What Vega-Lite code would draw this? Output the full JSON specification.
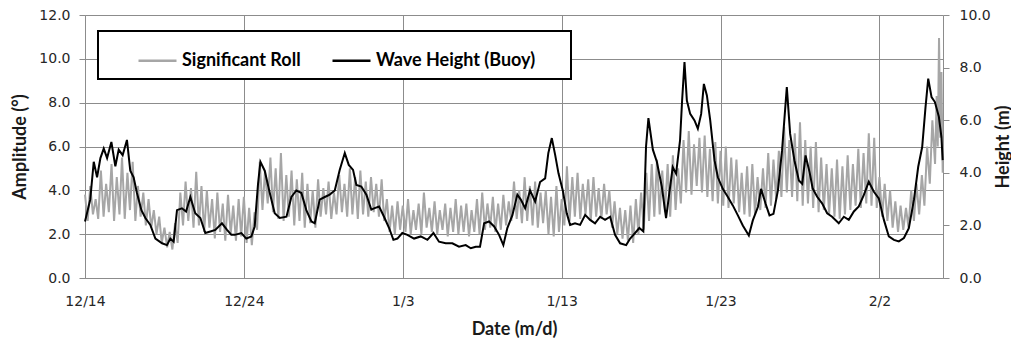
{
  "$schema": "https://vega.github.io/schema/vega-lite/v6.json",
  "width": 858,
  "height": 263,
  "autosize": {"type": "none"},
  "padding": {"left": 85, "top": 15, "right": 68, "bottom": 67},
  "background": "white",
  "config": {"view": {"stroke": null}, "font": "DejaVu Sans"},
  "datasets": {
    "roll": [
      {"d":0,"roll":3.8},{"d":0.17,"roll":2.6},{"d":0.33,"roll":4.2},{"d":0.5,"roll":2.9},{"d":0.67,"roll":3.6},{"d":0.83,"roll":2.7},
      {"d":1,"roll":4.9},{"d":1.17,"roll":2.8},{"d":1.33,"roll":4.3},{"d":1.5,"roll":3.0},{"d":1.67,"roll":5.2},{"d":1.83,"roll":2.6},
      {"d":2,"roll":4.6},{"d":2.17,"roll":2.9},{"d":2.33,"roll":5.5},{"d":2.5,"roll":2.7},{"d":2.67,"roll":4.8},{"d":2.83,"roll":3.1},
      {"d":3,"roll":5.3},{"d":3.17,"roll":2.6},{"d":3.33,"roll":4.2},{"d":3.5,"roll":2.8},{"d":3.67,"roll":3.9},{"d":3.83,"roll":2.4},
      {"d":4,"roll":3.6},{"d":4.17,"roll":2.3},{"d":4.33,"roll":3.1},{"d":4.5,"roll":2.0},{"d":4.67,"roll":2.8},{"d":4.83,"roll":1.6},
      {"d":5,"roll":2.3},{"d":5.17,"roll":1.4},{"d":5.33,"roll":2.1},{"d":5.5,"roll":1.3},{"d":5.67,"roll":2.5},{"d":5.83,"roll":1.6},
      {"d":6,"roll":3.9},{"d":6.17,"roll":2.4},{"d":6.33,"roll":4.4},{"d":6.5,"roll":2.6},{"d":6.67,"roll":4.1},{"d":6.83,"roll":2.3},
      {"d":7,"roll":4.85},{"d":7.17,"roll":2.4},{"d":7.33,"roll":4.2},{"d":7.5,"roll":2.1},{"d":7.67,"roll":4.0},{"d":7.83,"roll":2.3},
      {"d":8,"roll":3.6},{"d":8.17,"roll":1.8},{"d":8.33,"roll":3.9},{"d":8.5,"roll":2.1},{"d":8.67,"roll":3.4},{"d":8.83,"roll":1.7},
      {"d":9,"roll":3.8},{"d":9.17,"roll":2.0},{"d":9.33,"roll":3.3},{"d":9.5,"roll":1.7},{"d":9.67,"roll":3.6},{"d":9.83,"roll":1.9},
      {"d":10,"roll":3.7},{"d":10.17,"roll":1.6},{"d":10.33,"roll":3.2},{"d":10.5,"roll":1.5},{"d":10.67,"roll":3.0},{"d":10.83,"roll":2.2},
      {"d":11,"roll":5.3},{"d":11.17,"roll":3.1},{"d":11.33,"roll":4.9},{"d":11.5,"roll":3.4},{"d":11.67,"roll":5.5},{"d":11.83,"roll":3.0},
      {"d":12,"roll":5.0},{"d":12.17,"roll":2.7},{"d":12.33,"roll":5.7},{"d":12.5,"roll":2.6},{"d":12.67,"roll":4.7},{"d":12.83,"roll":2.8},
      {"d":13,"roll":4.9},{"d":13.17,"roll":2.4},{"d":13.33,"roll":4.5},{"d":13.5,"roll":2.6},{"d":13.67,"roll":4.8},{"d":13.83,"roll":2.3},
      {"d":14,"roll":4.3},{"d":14.17,"roll":2.5},{"d":14.33,"roll":4.0},{"d":14.5,"roll":2.3},{"d":14.67,"roll":4.5},{"d":14.83,"roll":2.8},
      {"d":15,"roll":4.1},{"d":15.17,"roll":2.9},{"d":15.33,"roll":4.4},{"d":15.5,"roll":2.7},{"d":15.67,"roll":3.9},{"d":15.83,"roll":2.9},
      {"d":16,"roll":4.7},{"d":16.17,"roll":3.0},{"d":16.33,"roll":4.3},{"d":16.5,"roll":2.8},{"d":16.67,"roll":5.0},{"d":16.83,"roll":2.9},
      {"d":17,"roll":4.6},{"d":17.17,"roll":2.7},{"d":17.33,"roll":4.9},{"d":17.5,"roll":2.9},{"d":17.67,"roll":4.4},{"d":17.83,"roll":2.8},
      {"d":18,"roll":4.6},{"d":18.17,"roll":3.0},{"d":18.33,"roll":4.3},{"d":18.5,"roll":2.8},{"d":18.67,"roll":4.5},{"d":18.83,"roll":2.6},
      {"d":19,"roll":3.6},{"d":19.17,"roll":2.1},{"d":19.33,"roll":3.3},{"d":19.5,"roll":2.0},{"d":19.67,"roll":3.5},{"d":19.83,"roll":2.2},
      {"d":20,"roll":3.3},{"d":20.17,"roll":2.1},{"d":20.33,"roll":3.6},{"d":20.5,"roll":2.0},{"d":20.67,"roll":3.1},{"d":20.83,"roll":2.2},
      {"d":21,"roll":3.4},{"d":21.17,"roll":2.0},{"d":21.33,"roll":3.9},{"d":21.5,"roll":2.3},{"d":21.67,"roll":3.2},{"d":21.83,"roll":2.1},
      {"d":22,"roll":3.5},{"d":22.17,"roll":2.0},{"d":22.33,"roll":3.1},{"d":22.5,"roll":2.2},{"d":22.67,"roll":3.4},{"d":22.83,"roll":1.9},
      {"d":23,"roll":3.2},{"d":23.17,"roll":2.1},{"d":23.33,"roll":3.6},{"d":23.5,"roll":2.0},{"d":23.67,"roll":3.3},{"d":23.83,"roll":2.1},
      {"d":24,"roll":3.4},{"d":24.17,"roll":1.9},{"d":24.33,"roll":3.1},{"d":24.5,"roll":2.1},{"d":24.67,"roll":3.6},{"d":24.83,"roll":2.0},
      {"d":25,"roll":3.9},{"d":25.17,"roll":2.2},{"d":25.33,"roll":3.4},{"d":25.5,"roll":2.3},{"d":25.67,"roll":3.7},{"d":25.83,"roll":2.1},
      {"d":26,"roll":3.4},{"d":26.17,"roll":2.2},{"d":26.33,"roll":3.8},{"d":26.5,"roll":2.4},{"d":26.67,"roll":3.5},{"d":26.83,"roll":2.6},
      {"d":27,"roll":4.4},{"d":27.17,"roll":2.7},{"d":27.33,"roll":4.0},{"d":27.5,"roll":2.5},{"d":27.67,"roll":4.6},{"d":27.83,"roll":2.6},
      {"d":28,"roll":4.2},{"d":28.17,"roll":2.4},{"d":28.33,"roll":4.4},{"d":28.5,"roll":2.3},{"d":28.67,"roll":3.9},{"d":28.83,"roll":2.5},
      {"d":29,"roll":4.0},{"d":29.17,"roll":2.0},{"d":29.33,"roll":3.7},{"d":29.5,"roll":1.9},{"d":29.67,"roll":4.2},{"d":29.83,"roll":2.1},
      {"d":30,"roll":3.6},{"d":30.17,"roll":2.4},{"d":30.33,"roll":5.1},{"d":30.5,"roll":2.6},{"d":30.67,"roll":4.6},{"d":30.83,"roll":2.8},
      {"d":31,"roll":4.8},{"d":31.17,"roll":2.7},{"d":31.33,"roll":4.3},{"d":31.5,"roll":2.9},{"d":31.67,"roll":4.5},{"d":31.83,"roll":2.6},
      {"d":32,"roll":4.6},{"d":32.17,"roll":2.8},{"d":32.33,"roll":4.1},{"d":32.5,"roll":2.7},{"d":32.67,"roll":4.3},{"d":32.83,"roll":2.9},
      {"d":33,"roll":4.0},{"d":33.17,"roll":2.3},{"d":33.33,"roll":3.5},{"d":33.5,"roll":2.0},{"d":33.67,"roll":3.2},{"d":33.83,"roll":1.8},
      {"d":34,"roll":3.1},{"d":34.17,"roll":1.7},{"d":34.33,"roll":3.3},{"d":34.5,"roll":1.6},{"d":34.67,"roll":3.6},{"d":34.83,"roll":2.0},
      {"d":35,"roll":3.9},{"d":35.17,"roll":2.2},{"d":35.33,"roll":4.8},{"d":35.5,"roll":2.6},{"d":35.67,"roll":5.2},{"d":35.83,"roll":2.8},
      {"d":36,"roll":5.4},{"d":36.17,"roll":2.9},{"d":36.33,"roll":4.9},{"d":36.5,"roll":3.0},{"d":36.67,"roll":5.2},{"d":36.83,"roll":2.8},
      {"d":37,"roll":5.6},{"d":37.17,"roll":3.1},{"d":37.33,"roll":5.0},{"d":37.5,"roll":3.4},{"d":37.67,"roll":6.3},{"d":37.83,"roll":3.9},
      {"d":38,"roll":6.7},{"d":38.17,"roll":3.8},{"d":38.33,"roll":6.1},{"d":38.5,"roll":4.2},{"d":38.67,"roll":6.4},{"d":38.83,"roll":3.9},
      {"d":39,"roll":6.5},{"d":39.17,"roll":3.7},{"d":39.33,"roll":5.9},{"d":39.5,"roll":3.5},{"d":39.67,"roll":6.2},{"d":39.83,"roll":3.4},
      {"d":40,"roll":5.8},{"d":40.17,"roll":3.3},{"d":40.33,"roll":6.0},{"d":40.5,"roll":3.2},{"d":40.67,"roll":5.5},{"d":40.83,"roll":3.4},
      {"d":41,"roll":5.4},{"d":41.17,"roll":3.0},{"d":41.33,"roll":4.8},{"d":41.5,"roll":2.9},{"d":41.67,"roll":5.1},{"d":41.83,"roll":2.8},
      {"d":42,"roll":5.2},{"d":42.17,"roll":2.9},{"d":42.33,"roll":4.6},{"d":42.5,"roll":3.1},{"d":42.67,"roll":5.0},{"d":42.83,"roll":3.2},
      {"d":43,"roll":5.7},{"d":43.17,"roll":3.3},{"d":43.33,"roll":5.4},{"d":43.5,"roll":3.6},{"d":43.67,"roll":5.8},{"d":43.83,"roll":3.7},
      {"d":44,"roll":6.9},{"d":44.17,"roll":3.9},{"d":44.33,"roll":6.3},{"d":44.5,"roll":3.7},{"d":44.67,"roll":6.6},{"d":44.83,"roll":3.5},
      {"d":45,"roll":7.1},{"d":45.17,"roll":3.3},{"d":45.33,"roll":6.3},{"d":45.5,"roll":3.4},{"d":45.67,"roll":6.0},{"d":45.83,"roll":3.2},
      {"d":46,"roll":6.2},{"d":46.17,"roll":3.0},{"d":46.33,"roll":5.5},{"d":46.5,"roll":3.1},{"d":46.67,"roll":5.2},{"d":46.83,"roll":2.9},
      {"d":47,"roll":5.0},{"d":47.17,"roll":2.8},{"d":47.33,"roll":5.4},{"d":47.5,"roll":2.7},{"d":47.67,"roll":5.1},{"d":47.83,"roll":2.9},
      {"d":48,"roll":5.6},{"d":48.17,"roll":3.1},{"d":48.33,"roll":5.2},{"d":48.5,"roll":3.3},{"d":48.67,"roll":5.9},{"d":48.83,"roll":3.2},
      {"d":49,"roll":5.7},{"d":49.17,"roll":3.4},{"d":49.33,"roll":6.6},{"d":49.5,"roll":3.3},{"d":49.67,"roll":6.4},{"d":49.83,"roll":3.2},
      {"d":50,"roll":4.6},{"d":50.17,"roll":2.8},{"d":50.33,"roll":4.3},{"d":50.5,"roll":2.6},{"d":50.67,"roll":4.0},{"d":50.83,"roll":2.3},
      {"d":51,"roll":3.5},{"d":51.17,"roll":2.1},{"d":51.33,"roll":3.3},{"d":51.5,"roll":2.2},{"d":51.67,"roll":3.2},{"d":51.83,"roll":2.3},
      {"d":52,"roll":4.0},{"d":52.17,"roll":2.6},{"d":52.33,"roll":4.3},{"d":52.5,"roll":2.9},{"d":52.67,"roll":4.7},{"d":52.83,"roll":3.3},
      {"d":53,"roll":6.0},{"d":53.17,"roll":4.3},{"d":53.33,"roll":7.2},{"d":53.5,"roll":5.2},{"d":53.6,"roll":8.3},{"d":53.67,"roll":6.0},
      {"d":53.75,"roll":10.95},{"d":53.83,"roll":6.4},{"d":53.9,"roll":9.4},{"d":53.98,"roll":4.8}
    ],
    "wave": [
      {"d":0,"wave":2.15},{"d":0.33,"wave":2.98},{"d":0.55,"wave":4.42},{"d":0.76,"wave":3.83},
      {"d":0.97,"wave":4.56},{"d":1.18,"wave":4.92},{"d":1.39,"wave":4.56},{"d":1.66,"wave":5.17},
      {"d":1.91,"wave":4.25},{"d":2.12,"wave":4.88},{"d":2.37,"wave":4.67},{"d":2.64,"wave":5.25},
      {"d":2.85,"wave":4.08},{"d":3.06,"wave":3.83},{"d":3.27,"wave":3.23},{"d":3.55,"wave":2.58},
      {"d":3.8,"wave":2.28},{"d":4.11,"wave":2.02},{"d":4.43,"wave":1.5},{"d":4.85,"wave":1.32},
      {"d":5.16,"wave":1.25},{"d":5.37,"wave":1.5},{"d":5.58,"wave":1.38},{"d":5.79,"wave":2.58},
      {"d":6.1,"wave":2.65},{"d":6.36,"wave":2.53},{"d":6.63,"wave":3.08},{"d":6.94,"wave":2.46},
      {"d":7.26,"wave":2.28},{"d":7.57,"wave":1.71},{"d":7.89,"wave":1.77},{"d":8.2,"wave":1.83},
      {"d":8.62,"wave":2.08},{"d":8.94,"wave":1.83},{"d":9.21,"wave":1.64},{"d":9.42,"wave":1.64},
      {"d":9.84,"wave":1.71},{"d":10.15,"wave":1.5},{"d":10.47,"wave":1.58},{"d":10.68,"wave":1.96},
      {"d":10.89,"wave":3.58},{"d":11.04,"wave":4.42},{"d":11.31,"wave":4.08},{"d":11.63,"wave":3.23},
      {"d":11.94,"wave":2.46},{"d":12.26,"wave":2.28},{"d":12.68,"wave":2.33},{"d":12.99,"wave":3.08},
      {"d":13.3,"wave":3.33},{"d":13.62,"wave":3.23},{"d":13.93,"wave":2.58},{"d":14.25,"wave":2.15},
      {"d":14.46,"wave":2.08},{"d":14.77,"wave":2.98},{"d":15.09,"wave":3.08},{"d":15.4,"wave":3.17},
      {"d":15.72,"wave":3.33},{"d":16.03,"wave":4.11},{"d":16.35,"wave":4.75},{"d":16.6,"wave":4.3},
      {"d":16.87,"wave":4.11},{"d":17.08,"wave":3.54},{"d":17.39,"wave":3.48},{"d":17.71,"wave":3.17},
      {"d":18.02,"wave":2.6},{"d":18.19,"wave":2.65},{"d":18.51,"wave":2.72},{"d":18.82,"wave":2.33},
      {"d":19.14,"wave":1.9},{"d":19.41,"wave":1.45},{"d":19.66,"wave":1.5},{"d":19.97,"wave":1.71},
      {"d":20.29,"wave":1.64},{"d":20.71,"wave":1.5},{"d":21.13,"wave":1.58},{"d":21.55,"wave":1.45},
      {"d":21.93,"wave":1.71},{"d":22.28,"wave":1.38},{"d":22.7,"wave":1.32},{"d":23.12,"wave":1.32},
      {"d":23.54,"wave":1.19},{"d":23.96,"wave":1.25},{"d":24.28,"wave":1.13},{"d":24.59,"wave":1.19},
      {"d":24.86,"wave":1.19},{"d":25.12,"wave":2.08},{"d":25.43,"wave":2.15},{"d":25.75,"wave":1.96},
      {"d":26.06,"wave":1.64},{"d":26.33,"wave":1.25},{"d":26.58,"wave":1.9},{"d":26.9,"wave":2.39},
      {"d":27.21,"wave":3.17},{"d":27.43,"wave":2.98},{"d":27.7,"wave":2.65},{"d":28.01,"wave":3.33},
      {"d":28.33,"wave":2.91},{"d":28.64,"wave":3.65},{"d":28.96,"wave":3.79},{"d":29.16,"wave":4.75},
      {"d":29.38,"wave":5.32},{"d":29.59,"wave":4.68},{"d":29.8,"wave":3.98},{"d":30.07,"wave":3.33},
      {"d":30.32,"wave":2.46},{"d":30.53,"wave":2.02},{"d":30.84,"wave":2.08},{"d":31.16,"wave":2.02},
      {"d":31.48,"wave":2.4},{"d":31.79,"wave":2.21},{"d":32.1,"wave":2.08},{"d":32.42,"wave":2.33},
      {"d":32.73,"wave":2.21},{"d":33.05,"wave":2.33},{"d":33.36,"wave":1.64},{"d":33.68,"wave":1.32},
      {"d":34.06,"wave":1.25},{"d":34.31,"wave":1.5},{"d":34.62,"wave":1.71},{"d":34.89,"wave":1.9},
      {"d":35.14,"wave":1.77},{"d":35.31,"wave":5.0},{"d":35.46,"wave":6.08},{"d":35.74,"wave":4.88},
      {"d":35.99,"wave":4.42},{"d":36.3,"wave":3.48},{"d":36.57,"wave":2.28},{"d":36.78,"wave":3.25},
      {"d":36.99,"wave":4.22},{"d":37.2,"wave":3.97},{"d":37.45,"wave":5.23},{"d":37.58,"wave":6.75},
      {"d":37.73,"wave":8.21},{"d":37.88,"wave":6.75},{"d":38.09,"wave":6.24},{"d":38.36,"wave":5.99},
      {"d":38.57,"wave":5.68},{"d":38.78,"wave":6.24},{"d":38.95,"wave":7.38},{"d":39.14,"wave":6.94},
      {"d":39.35,"wave":5.99},{"d":39.62,"wave":4.47},{"d":39.83,"wave":3.83},{"d":40.14,"wave":3.39},
      {"d":40.46,"wave":3.08},{"d":40.77,"wave":2.76},{"d":41.09,"wave":2.38},{"d":41.4,"wave":2.0},
      {"d":41.78,"wave":1.62},{"d":42.03,"wave":2.19},{"d":42.35,"wave":2.7},{"d":42.55,"wave":3.39},
      {"d":42.83,"wave":2.83},{"d":43.08,"wave":2.38},{"d":43.33,"wave":2.44},{"d":43.61,"wave":3.33},
      {"d":43.87,"wave":4.85},{"d":44.17,"wave":7.26},{"d":44.38,"wave":5.48},{"d":44.65,"wave":4.47},
      {"d":44.93,"wave":3.71},{"d":45.14,"wave":3.58},{"d":45.35,"wave":4.66},{"d":45.6,"wave":4.03},
      {"d":45.8,"wave":3.4},{"d":46.08,"wave":3.09},{"d":46.39,"wave":2.84},{"d":46.71,"wave":2.46},
      {"d":47.02,"wave":2.33},{"d":47.44,"wave":2.08},{"d":47.76,"wave":2.33},{"d":48.07,"wave":2.21},
      {"d":48.39,"wave":2.53},{"d":48.7,"wave":2.72},{"d":49.02,"wave":3.16},{"d":49.33,"wave":3.66},
      {"d":49.65,"wave":3.28},{"d":49.96,"wave":3.03},{"d":50.28,"wave":2.21},{"d":50.59,"wave":1.58},
      {"d":50.91,"wave":1.45},{"d":51.22,"wave":1.39},{"d":51.54,"wave":1.52},{"d":51.85,"wave":1.89},
      {"d":52.17,"wave":2.97},{"d":52.44,"wave":4.23},{"d":52.69,"wave":4.98},{"d":52.9,"wave":6.5},
      {"d":53.07,"wave":7.58},{"d":53.28,"wave":6.88},{"d":53.49,"wave":6.69},{"d":53.74,"wave":6.13},
      {"d":53.9,"wave":5.37},{"d":53.98,"wave":4.48}
    ]
  },
  "encoding": {
    "x": {
      "field": "d",
      "type": "quantitative",
      "scale": {"domain": [0, 54], "nice": false, "zero": false},
      "axis": {
        "values": [0, 10, 20, 30, 40, 50],
        "labelExpr": "datum.value == 0 ? '12/14' : datum.value == 10 ? '12/24' : datum.value == 20 ? '1/3' : datum.value == 30 ? '1/13' : datum.value == 40 ? '1/23' : '2/2'",
        "title": "Date (m/d)",
        "grid": true,
        "gridColor": "#8C8C8C",
        "gridOpacity": 1,
        "domainColor": "#8C8C8C",
        "ticks": false,
        "labelPadding": 16,
        "labelFont": "DejaVu Sans",
        "labelFontSize": 14,
        "labelColor": "#262626",
        "labelFlush": false,
        "titleFont": "Lato",
        "titleFontWeight": "bold",
        "titleFontSize": 18,
        "titleColor": "#1a1a1a",
        "titleX": 429,
        "titleY": 51,
        "titleBaseline": "middle"
      }
    }
  },
  "layer": [
    {
      "data": {"name": "roll"},
      "mark": {"type": "line", "strokeWidth": 2, "strokeJoin": "miter"},
      "encoding": {
        "y": {
          "field": "roll",
          "type": "quantitative",
          "scale": {"domain": [0, 12], "nice": false},
          "axis": {
            "orient": "left",
            "values": [0, 2, 4, 6, 8, 10, 12],
            "format": ".1f",
            "title": "Amplitude (°)",
            "grid": true,
            "gridColor": "#8C8C8C",
            "gridOpacity": 1,
            "domainColor": "#8C8C8C",
            "tickColor": "#8C8C8C",
            "tickSize": 6,
            "labelPadding": 9,
            "labelFont": "DejaVu Sans",
            "labelFontSize": 14,
            "labelColor": "#262626",
            "labelFlush": false,
            "titleFont": "Lato",
            "titleFontWeight": "bold",
            "titleFontSize": 18,
            "titleColor": "#1a1a1a",
            "titleAngle": -90,
            "titleX": -65,
            "titleY": 131.5,
            "titleBaseline": "middle"
          }
        },
        "color": {
          "datum": "Significant Roll",
          "scale": {"domain": ["Significant Roll", "Wave Height (Buoy)"], "range": ["#A6A6A6", "#000000"]},
          "legend": {
            "orient": "none",
            "legendX": 13,
            "legendY": 16,
            "direction": "horizontal",
            "title": "\u00a0",
            "titleOrient": "right",
            "titlePadding": 27,
            "titleFontSize": 18,
            "symbolType": "stroke",
            "symbolSize": 1444,
            "symbolStrokeWidth": 2.5,
            "symbolOffset": 30,
            "labelOffset": 4,
            "columnPadding": 0,
            "labelFont": "Lato",
            "labelFontWeight": "bold",
            "labelFontSize": 18,
            "labelColor": "#000000",
            "fillColor": "white",
            "strokeColor": "#000000",
            "padding": 9,
            "cornerRadius": 0,
            "encode": {"legend": {"update": {"strokeWidth": {"value": 2}}}}
          }
        }
      }
    },
    {
      "data": {"name": "wave"},
      "mark": {"type": "line", "strokeWidth": 2},
      "encoding": {
        "y": {
          "field": "wave",
          "type": "quantitative",
          "scale": {"domain": [0, 10], "nice": false},
          "axis": {
            "orient": "right",
            "values": [0, 2, 4, 6, 8, 10],
            "format": ".1f",
            "title": "Height (m)",
            "grid": false,
            "domainColor": "#8C8C8C",
            "tickColor": "#8C8C8C",
            "tickSize": 6,
            "labelPadding": 10,
            "labelFont": "DejaVu Sans",
            "labelFontSize": 14,
            "labelColor": "#262626",
            "labelFlush": false,
            "titleFont": "Lato",
            "titleFontWeight": "bold",
            "titleFontSize": 18,
            "titleColor": "#1a1a1a",
            "titleAngle": -90,
            "titleX": 60,
            "titleY": 131.5,
            "titleBaseline": "middle"
          }
        },
        "color": {"datum": "Wave Height (Buoy)"}
      }
    }
  ],
  "resolve": {"scale": {"y": "independent"}}
}
